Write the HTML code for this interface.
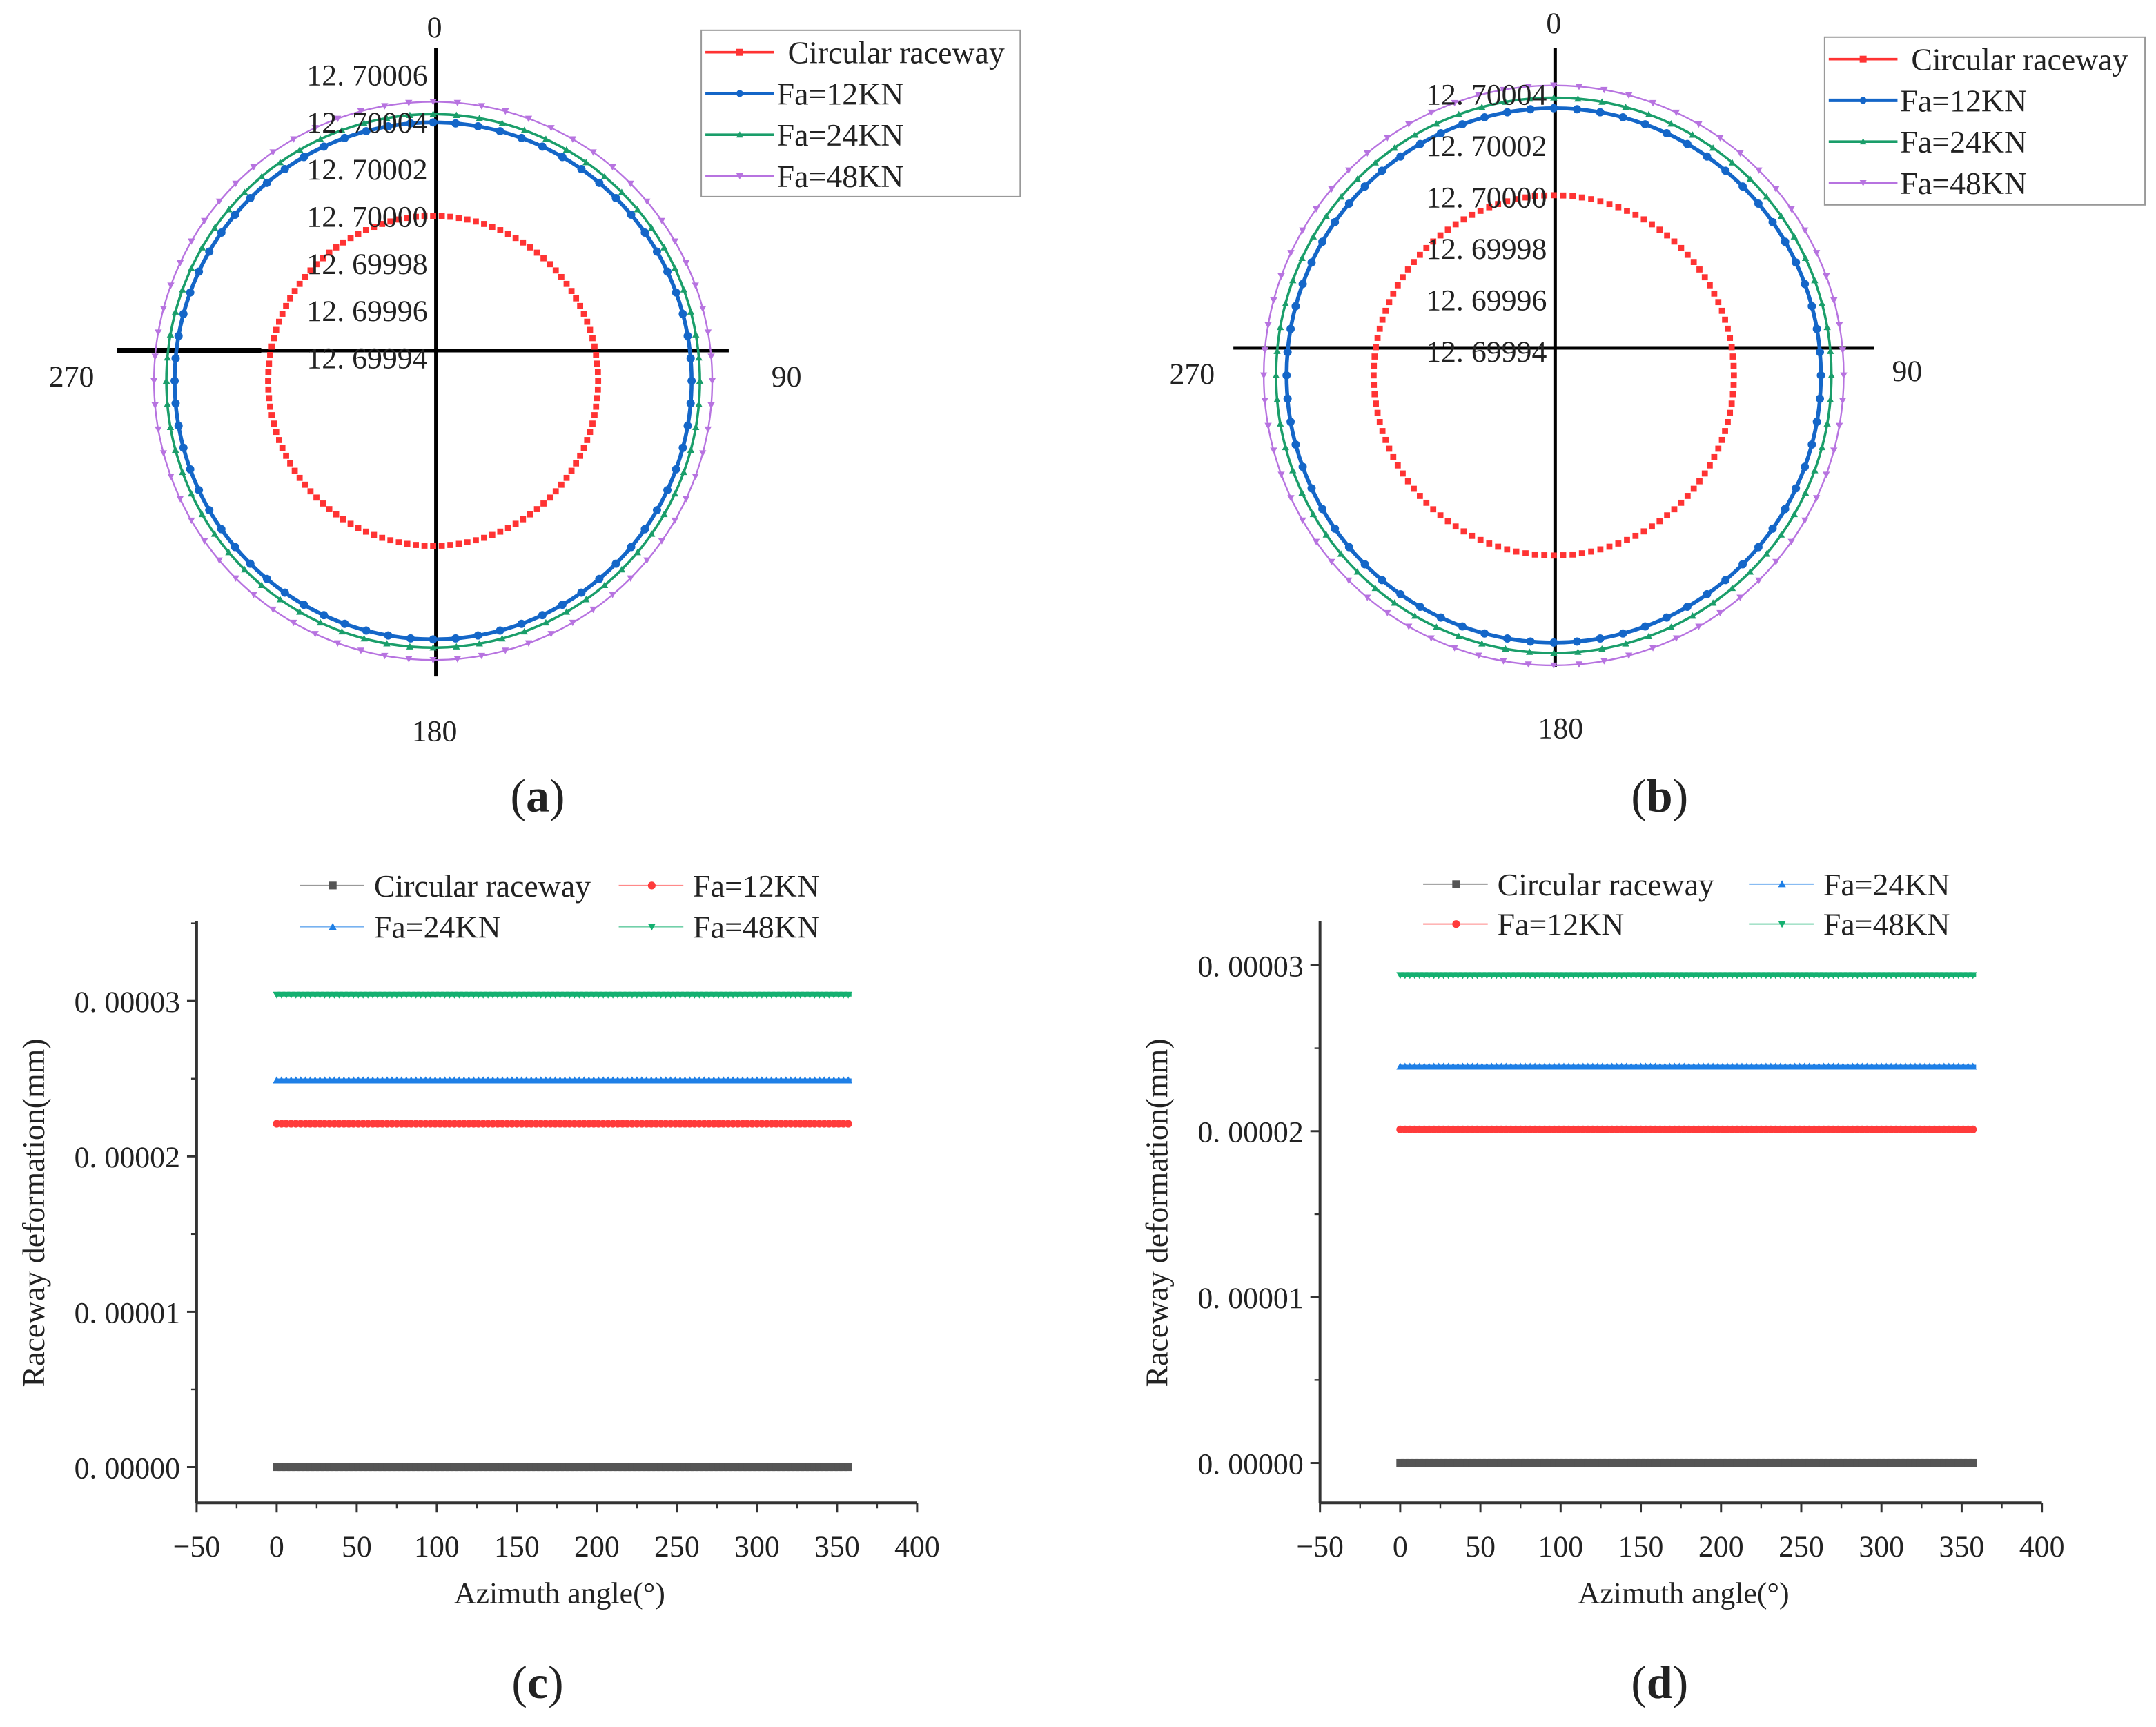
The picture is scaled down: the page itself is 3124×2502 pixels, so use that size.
<!DOCTYPE html>
<html><head><meta charset="utf-8"><style>
html,body{margin:0;padding:0;background:#fff}
svg{display:block}
text{font-family:"Liberation Serif","Noto Serif CJK SC",serif;fill:#222}
</style></head><body>
<svg id="fig" width="3124" height="2502" viewBox="0 0 1568 1256" preserveAspectRatio="none" xmlns="http://www.w3.org/2000/svg">
<g id="pa"></g>
<g id="pb"></g>
<g id="pc"></g>
<g id="pd"></g>
<text x="391" y="590" font-size="34" text-anchor="middle">(<tspan font-weight="bold">a</tspan>)</text>
<text x="1207" y="590" font-size="34" text-anchor="middle">(<tspan font-weight="bold">b</tspan>)</text>
<text x="391" y="1235" font-size="34" text-anchor="middle">(<tspan font-weight="bold">c</tspan>)</text>
<text x="1207" y="1235" font-size="34" text-anchor="middle">(<tspan font-weight="bold">d</tspan>)</text>
</svg>
<script>
const seriesNames=["Circular raceway","Fa=12KN","Fa=24KN","Fa=48KN"];
const polarRadiiA=[12.70000,12.700034,12.700037,12.7000415];
const polarRadiiB=[12.70000,12.700029,12.7000325,12.7000366];
const polarTicksA=["12. 70006","12. 70004","12. 70002","12. 70000","12. 69998","12. 69996","12. 69994"];
const polarTicksB=["12. 70004","12. 70002","12. 70000","12. 69998","12. 69996","12. 69994"];
const xTicks=[-50,0,50,100,150,200,250,300,350,400];
const yTicks=[0,0.00001,0.00002,0.00003];
const yTickLabels=["0. 00000","0. 00001","0. 00002","0. 00003"];
const deformC=[0,0.0000221,0.0000249,0.0000304];
const deformD=[0,0.0000201,0.0000239,0.0000294];
const angleStart=0, angleEnd=360, angleStep=3;

const NS="http://www.w3.org/2000/svg";
function mk(p,tag,at){const e=document.createElementNS(NS,tag);for(const k in at)e.setAttribute(k,at[k]);p.appendChild(e);return e;}
function txt(p,x,y,s,fs,anc){const t=mk(p,'text',{x:x,y:y,'font-size':fs,'text-anchor':anc||'start'});t.textContent=s;return t;}
function marker(p,type,x,y,col,s){
  let e;
  if(type==='sq') e=mk(p,'rect',{x:x-s,y:y-s,width:2*s,height:2*s,fill:col});
  else if(type==='ci') e=mk(p,'circle',{cx:x,cy:y,r:s,fill:col});
  else if(type==='up') e=mk(p,'polygon',{points:`${x},${y-s} ${x-s},${y+s*0.8} ${x+s},${y+s*0.8}`,fill:col});
  else e=mk(p,'polygon',{points:`${x},${y+s} ${x-s},${y-s*0.8} ${x+s},${y-s*0.8}`,fill:col});
  return e;
}
const polarCols=["#ff3333","#1466c8","#1a9e6a","#b773e0"];
const polarMk=["sq","ci","up","dn"];
const polarLw=[0,2.8,1.8,1.2];

function polar(gid,cx,cy,ax,radii,base,span,pxSpan,ticks,tickY0,tickDy,lab,leg){
  const g=document.getElementById(gid);
  const rr=v=>(v-base)/span*pxSpan;
  let l=mk(g,'line',{x1:ax.vx,y1:ax.vt,x2:ax.vx,y2:ax.vb,stroke:'#000','stroke-width':2.5});
  
  
  l=mk(g,'line',{x1:ax.hl,y1:ax.hy,x2:ax.hr,y2:ax.hy,stroke:'#000','stroke-width':2.5});
  
  
  if(ax.thick){l=mk(g,'line',{x1:ax.thick[0],y1:ax.hy,x2:ax.thick[1],y2:ax.hy,stroke:'#000','stroke-width':4});}
  radii.forEach((v,i)=>{
    const s=mk(g,'g',{});
    
    
    const r=rr(v);
    if(polarLw[i]>0) mk(s,'circle',{cx:cx,cy:cy,r:r,fill:'none',stroke:polarCols[i],'stroke-width':polarLw[i]});
    const step=i===0?3:5;
    for(let a=0;a<360;a+=step){
      const t=a*Math.PI/180;
      marker(s,polarMk[i],cx+r*Math.sin(t),cy-r*Math.cos(t),polarCols[i],i===0?2.2:(i===1?3:2.6));
    }
  });
  ticks.forEach((t,i)=>{const e=txt(g,ax.vx-6,tickY0+i*tickDy,t,22,'end');
    });
  lab.forEach(o=>{const e=txt(g,o[0],o[1],o[2],22,'middle');
    });
  const lg=mk(g,'g',{});
  
  
  mk(lg,'rect',{x:leg.x,y:leg.y,width:leg.w,height:leg.h,fill:'#fff',stroke:'#999','stroke-width':1});
  seriesNames.forEach((n,i)=>{
    const y=leg.y+16+i*30;
    mk(lg,'line',{x1:leg.x+3,y1:y,x2:leg.x+53,y2:y,stroke:polarCols[i],'stroke-width':i===1?2.5:1.8});
    marker(lg,polarMk[i],leg.x+28,y,polarCols[i],2.5);
    const e=txt(lg,leg.x+(i===0?63:55),y+8,n,23);
    
  });
}
polar('pa',315,277,{vx:317,vt:35,vb:492,hl:85,hr:530,hy:255,thick:[85,190]},polarRadiiA,12.69994,0.00006,120,polarTicksA,62,34.3,
  [[316,27,'0'],[572,281,'90'],[316,539,'180'],[52,281,'270']],{x:510,y:22,w:232,h:121});
polar('pb',1130,273,{vx:1131,vt:35,vb:485,hl:897,hr:1363,hy:253},polarRadiiB,12.69994,0.00006,131,polarTicksB,76,37.4,
  [[1130,24,'0'],[1387,277,'90'],[1135,537,'180'],[867,279,'270']],{x:1327,y:27,w:233,h:122});

const lineCols=["#555555","#ff3b3b","#1e7fe6","#14b070"];
const lineMk=["sq","ci","up","dn"];
function linechart(gid,L,R,T,B,yMaxPx,y0px,vals,legPos,ytx){
  const g=document.getElementById(gid);
  const X=v=>L+(v+50)/450*(R-L);
  const Y=v=>y0px-v/0.00003*(y0px-yMaxPx);
  let e=mk(g,'line',{x1:L,y1:T,x2:L,y2:B,stroke:'#333','stroke-width':2});
  
  e=mk(g,'line',{x1:L,y1:B,x2:R,y2:B,stroke:'#333','stroke-width':2});
  
  xTicks.forEach((v,i)=>{
    mk(g,'line',{x1:X(v),y1:B,x2:X(v),y2:B+7,stroke:'#333','stroke-width':1.5});
    if(i<xTicks.length-1) mk(g,'line',{x1:X(v+25),y1:B,x2:X(v+25),y2:B+4,stroke:'#333','stroke-width':1.2});
    const t=txt(g,X(v),B+39,(v<0?'\u221250':String(v)),22,'middle');
    
  });
  yTicks.forEach((v,i)=>{
    mk(g,'line',{x1:L-7,y1:Y(v),x2:L,y2:Y(v),stroke:'#333','stroke-width':1.5});
    const ym=Y(v+0.000005);
    if(ym>=T) mk(g,'line',{x1:L-4,y1:ym,x2:L,y2:ym,stroke:'#333','stroke-width':1.2});
    const t=txt(g,L-12,Y(v)+8,yTickLabels[i],22,'end');
    
  });
  vals.forEach((v,i)=>{
    const s=mk(g,'g',{});
    
    
    mk(s,'line',{x1:X(angleStart),y1:Y(v),x2:X(angleEnd-1),y2:Y(v),stroke:lineCols[i],'stroke-width':i===0?5:2.5});
    for(let a=angleStart;a<angleEnd;a+=angleStep) marker(s,lineMk[i],X(a),Y(v),lineCols[i],i===0?2.8:2.8);
  });
  const lg=mk(g,'g',{});
  
  
  legPos.forEach(p=>{
    const i=p[0],x=p[1],y=p[2];
    mk(lg,'line',{x1:x,y1:y,x2:x+47,y2:y,stroke:lineCols[i],'stroke-width':1,'stroke-opacity':0.6});
    marker(lg,lineMk[i],x+24,y,lineCols[i],2.8);
    const t=txt(lg,x+54,y+8,seriesNames[i],23);
    
  });
  let t=txt(g,(L+R)/2+2,1166,'Azimuth angle(°)',22,'middle');
  
  t=txt(g,0,0,'Raceway deformation(mm)',23,'middle');
  t.setAttribute('transform',`translate(${ytx},882) rotate(-90)`);
  
}
linechart('pc',143,667,670,1093,728,1067,deformC,[[0,218,644],[1,450,644],[2,218,674],[3,450,674]],32);
linechart('pd',960,1485,670,1093,702,1064,deformD,[[0,1035,643],[2,1272,643],[1,1035,672],[3,1272,672]],849);
</script>
</body></html>
